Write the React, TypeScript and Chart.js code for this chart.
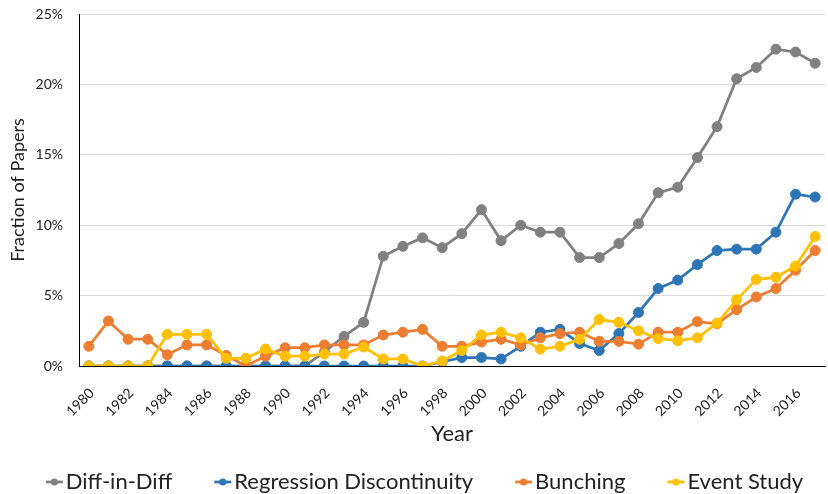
import React, { useEffect, useRef } from "react";
import { Chart, registerables } from "chart.js";

Chart.register(...registerables);

const years = [
  "1980", "1981", "1982", "1983", "1984", "1985", "1986", "1987", "1988", "1989",
  "1990", "1991", "1992", "1993", "1994", "1995", "1996", "1997", "1998", "1999",
  "2000", "2001", "2002", "2003", "2004", "2005", "2006", "2007", "2008", "2009",
  "2010", "2011", "2012", "2013", "2014", "2015", "2016", "2017",
];

const diffInDiff = [
  0, 0, 0, 0, 0, 0, 0, 0, 0, 0, 0, 0,
  1.0, 2.1, 3.1, 7.8, 8.5, 9.1, 8.4, 9.4, 11.1, 8.9, 10.0, 9.5, 9.5, 7.7,
  7.7, 8.7, 10.1, 12.3, 12.7, 14.8, 17.0, 20.4, 21.2, 22.5, 22.3, 21.5,
];

const regressionDiscontinuity = [
  0, 0, 0, 0, 0, 0, 0, 0, 0, 0, 0, 0, 0, 0, 0, 0, 0, 0,
  0.3, 0.6, 0.6, 0.5, 1.4, 2.4, 2.6, 1.6, 1.1, 2.3, 3.8, 5.5,
  6.1, 7.2, 8.2, 8.3, 8.3, 9.5, 12.2, 12.0,
];

const bunching = [
  1.4, 3.2, 1.9, 1.9, 0.8, 1.5, 1.5, 0.75, 0, 0.7, 1.3, 1.3,
  1.5, 1.5, 1.5, 2.2, 2.4, 2.6, 1.4, 1.4, 1.7, 1.9, 1.5, 2.0, 2.3, 2.4,
  1.75, 1.75, 1.55, 2.4, 2.4, 3.15, 3.0, 4.0, 4.9, 5.5, 6.8, 8.2,
];

const eventStudy = [
  0, 0, 0, 0, 2.25, 2.25, 2.25, 0.55, 0.55, 1.2, 0.7, 0.7,
  0.85, 0.85, 1.35, 0.5, 0.5, 0, 0.35, 1.1, 2.2, 2.4, 2.0, 1.2, 1.4, 1.9,
  3.3, 3.1, 2.5, 1.95, 1.8, 2.0, 3.05, 4.7, 6.15, 6.3, 7.1, 9.2,
];

const seriesNames = ["Diff-in-Diff", "Regression Discontinuity", "Bunching", "Event Study"];
const seriesColors = ["#808080", "#2E75B6", "#ED7D31", "#FFC000"];
const yTicks = [0, 5, 10, 15, 20, 25];

const FONT = "Lato, 'Open Sans', sans-serif";
const TEXT = "#222222";

function legendMarker(color: string): HTMLCanvasElement {
  const c = document.createElement("canvas");
  c.width = 47;
  c.height = 12;
  const ctx = c.getContext("2d")!;
  ctx.strokeStyle = color;
  ctx.lineWidth = 2.75;
  ctx.beginPath();
  ctx.moveTo(28, 6);
  ctx.lineTo(45, 6);
  ctx.stroke();
  ctx.fillStyle = color;
  ctx.beginPath();
  ctx.arc(36.5, 6, 3.6, 0, Math.PI * 2);
  ctx.fill();
  return c;
}

export default function App() {
  const ref = useRef<HTMLCanvasElement>(null);

  useEffect(() => {
    const values = [diffInDiff, regressionDiscontinuity, bunching, eventStudy];
    const markers = seriesColors.map((c) => legendMarker(c));
    const datasets = values.map((data, i) => ({
      label: seriesNames[i],
      data,
      borderColor: seriesColors[i],
      backgroundColor: seriesColors[i],
      pointBackgroundColor: seriesColors[i],
      pointBorderColor: seriesColors[i],
      pointBorderWidth: 1,
      pointRadius: 5,
      pointHoverRadius: 5,
      borderWidth: 2.75,
      tension: 0,
      fill: false,
      order: 4 - i,
    }));

    const chart = new Chart(ref.current!, {
      type: "line",
      data: { labels: years, datasets },
      options: {
        animation: false,
        responsive: false,
        devicePixelRatio: 1,
        layout: { padding: { top: 14, left: 0, right: 0, bottom: 0 } },
        plugins: {
          tooltip: { enabled: false },
          legend: {
            position: "bottom",
            labels: {
              usePointStyle: true,
              pointStyleWidth: 27,
              padding: 24,
              color: TEXT,
              font: { family: FONT, size: 22 },
              generateLabels: (ch: any) =>
                ch.data.datasets.map((ds: any, i: number) => ({
                  text: ds.label,
                  pointStyle: markers[i],
                  fillStyle: ds.borderColor,
                  strokeStyle: ds.borderColor,
                  lineWidth: 0,
                  hidden: false,
                  datasetIndex: i,
                  fontColor: TEXT,
                })),
            },
          },
        },
        scales: {
          x: {
            offset: true,
            grid: {
              drawOnChartArea: false,
              drawTicks: true,
              tickLength: 19,
              tickColor: "rgba(0,0,0,0)",
              offset: true,
            },
            border: { display: true, color: "#000000", width: 1 },
            ticks: {
              autoSkip: false,
              maxRotation: 45,
              minRotation: 45,
              padding: 0,
              labelOffset: 3,
              color: TEXT,
              font: { family: FONT, size: 14 },
              callback: (_v: any, i: number) => (i % 2 === 0 ? years[i] : ""),
            },
            title: {
              display: true,
              text: "Year",
              color: TEXT,
              font: { family: FONT, size: 22 },
              padding: { top: 0, bottom: 0 },
            },
            afterFit: (s: any) => {
              s.height = 81;
            },
          },
          y: {
            min: yTicks[0],
            max: yTicks[yTicks.length - 1],
            grid: {
              color: "#D9D9D9",
              drawTicks: true,
              tickLength: 16,
              tickColor: "rgba(0,0,0,0)",
              lineWidth: 1,
            },
            border: { display: true, color: "#000000", width: 1 },
            ticks: {
              stepSize: 5,
              padding: 0,
              color: TEXT,
              font: { family: FONT, size: 14 },
              callback: (v: any) => v + "%",
            },
            title: {
              display: true,
              text: "Fraction of Papers",
              color: TEXT,
              font: { family: FONT, size: 18 },
              padding: { top: 7, bottom: 0 },
            },
            afterFit: (s: any) => {
              s.width = 79;
            },
          },
        },
      },
    });
    return () => chart.destroy();
  }, []);

  return (
    <div
      style={{
        position: "fixed",
        left: 0,
        top: 0,
        width: 828,
        height: 494,
        overflow: "hidden",
        background: "#ffffff",
      }}
    >
      <canvas ref={ref} width={831} height={503} style={{ display: "block", width: 831, height: 503 }} />
    </div>
  );
}
